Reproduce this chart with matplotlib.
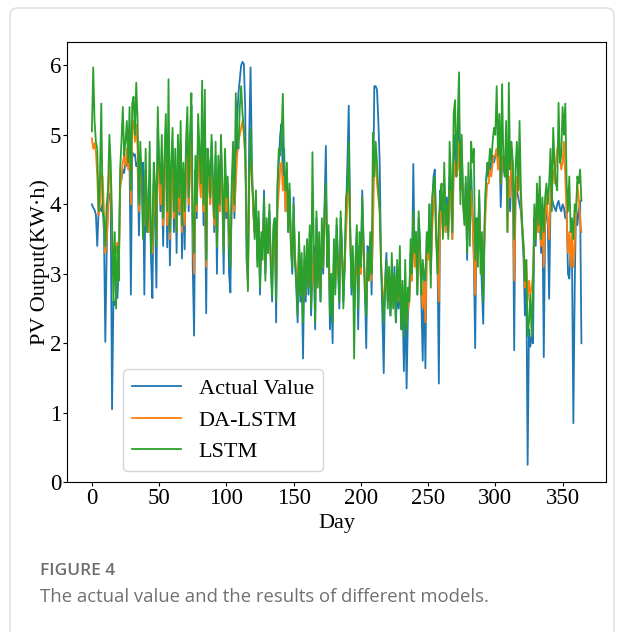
import matplotlib
matplotlib.use("Agg")
import matplotlib.pyplot as plt
from matplotlib.patches import FancyBboxPatch
from matplotlib.ticker import MultipleLocator

# daily PV output (one value per day, 365 days)
actual_value = [
    4.00, 3.95, 3.92, 3.85, 3.40, 3.90, 3.95, 3.90, 4.00, 3.60,
    2.02, 3.30, 4.10, 4.15, 4.00, 1.05, 2.60, 2.55, 2.70, 2.65,
    3.10, 4.30, 4.35, 4.50, 4.45, 4.60, 4.55, 4.70, 4.65, 2.70,
    4.75, 4.70, 4.72, 4.55, 4.60, 3.55, 4.40, 4.20, 4.60, 2.70,
    4.50, 4.00, 3.60, 4.20, 3.20, 2.65, 4.30, 3.80, 2.80, 5.10,
    4.60, 3.90, 4.40, 3.40, 4.50, 5.10, 3.38, 4.60, 3.12, 4.20,
    4.80, 3.60, 4.50, 3.30, 4.70, 3.85, 4.90, 3.22, 4.40, 3.35,
    4.60, 5.00, 3.90, 4.80, 5.42, 3.10, 2.11, 4.50, 3.80, 5.00,
    4.60, 4.20, 5.10, 3.70, 4.30, 2.43, 4.80, 4.50, 4.00, 4.90,
    4.20, 3.60, 4.70, 3.00, 4.50, 3.90, 4.80, 4.20, 3.00, 4.60,
    3.80, 4.30, 3.00, 2.73, 4.20, 4.60, 3.80, 4.50, 5.20, 5.60,
    5.80, 6.00, 6.05, 6.02, 5.40, 3.20, 2.90, 5.00, 5.97, 4.60,
    3.90, 3.60, 4.00, 3.20, 3.80, 2.70, 3.50, 3.40, 4.20, 3.00,
    3.70, 3.30, 3.90, 3.20, 2.60, 3.60, 3.80, 2.30, 4.20, 4.60,
    5.00, 5.16, 4.40, 4.80, 3.90, 4.50, 3.60, 4.20, 3.40, 3.00,
    4.10, 3.20, 2.80, 2.30, 3.50, 2.60, 3.00, 1.78, 3.20, 2.60,
    3.30, 2.70, 3.60, 2.40, 3.00, 3.40, 2.20, 3.80, 2.90, 3.30,
    2.60, 3.50, 3.00, 4.00, 4.84, 3.10, 3.60, 2.20, 2.80, 2.00,
    3.40, 2.80, 3.70, 3.20, 2.50, 3.80, 3.40, 2.60, 3.10, 3.90,
    4.60, 5.42, 3.80, 2.70, 3.30, 2.50, 3.10, 3.60, 2.20, 3.40,
    3.00, 4.20, 3.50, 2.80, 1.93, 3.40, 3.00, 3.50, 2.70, 3.90,
    5.70, 5.70, 5.65, 5.20, 4.60, 3.20, 2.40, 1.57, 2.90, 3.30,
    2.60, 3.00, 2.40, 2.80, 2.60, 3.10, 2.30, 2.70, 2.50, 2.90,
    2.20, 2.60, 1.60, 2.80, 1.35, 2.40, 2.70, 3.30, 3.00, 4.58,
    3.20, 3.60, 2.70, 3.80, 3.40, 2.60, 1.75, 3.00, 1.64, 3.50,
    3.30, 4.00, 3.00, 3.90, 4.40, 4.50, 3.60, 3.20, 1.42, 4.20,
    4.00, 3.70, 4.30, 3.60, 4.10, 3.60, 4.40, 4.20, 3.50, 4.60,
    5.00, 4.40, 4.60, 5.30, 4.20, 4.80, 4.10, 3.80, 4.30, 3.20,
    4.40, 3.60, 4.50, 3.90, 3.20, 1.93, 3.80, 3.50, 4.10, 3.40,
    2.80, 2.28, 3.60, 4.30, 4.50, 4.40, 4.60, 4.50, 4.70, 4.60,
    4.70, 4.80, 4.60, 4.90, 3.96, 4.60, 4.50, 4.45, 4.40, 4.30,
    4.20, 3.90, 4.50, 4.40, 1.90, 4.30, 4.20, 4.10, 4.00, 3.90,
    3.60, 3.20, 2.40, 3.00, 0.25, 2.20, 1.95, 2.10, 2.00, 3.80,
    3.40, 4.00, 3.60, 3.80, 3.30, 3.90, 1.80, 3.70, 4.00, 3.70,
    2.64, 4.00, 4.10, 4.00, 3.95, 3.90, 4.00, 4.05, 3.95, 3.90,
    4.00, 3.95, 3.80, 3.90, 3.00, 2.93, 3.40, 3.20, 0.85, 2.80,
    4.00, 3.70, 3.90, 4.05, 2.00,
]

da_lstm = [
    4.95, 4.80, 4.88, 4.75, 4.40, 3.85, 4.00, 4.45, 4.40, 3.90,
    3.30, 3.50, 3.80, 4.75, 4.30, 3.60, 3.00, 3.40, 3.30, 3.45,
    3.00, 4.20, 4.40, 4.60, 4.70, 4.55, 4.80, 4.50, 5.10, 4.00,
    5.10, 5.20, 4.90, 5.15, 4.80, 3.90, 4.60, 4.30, 3.80, 3.70,
    4.30, 4.00, 3.60, 4.10, 3.40, 3.30, 4.20, 4.00, 3.50, 4.70,
    4.40, 4.00, 4.30, 3.70, 4.40, 4.80, 3.70, 4.40, 3.50, 4.10,
    4.50, 3.80, 4.30, 3.60, 4.50, 3.90, 4.60, 3.60, 4.20, 3.70,
    4.40, 4.70, 4.00, 4.50, 5.00, 3.70, 3.00, 4.30, 3.90, 4.70,
    4.40, 4.10, 4.80, 3.90, 4.20, 3.10, 4.40, 4.30, 4.00, 4.60,
    4.10, 3.70, 4.40, 3.40, 4.30, 3.90, 4.50, 4.10, 3.40, 4.40,
    3.90, 4.20, 3.50, 3.20, 4.00, 4.40, 3.90, 4.30, 4.70, 4.90,
    5.00, 5.10, 5.20, 5.00, 4.70, 3.90, 2.80, 4.30, 4.90, 4.40,
    3.90, 3.60, 3.90, 3.40, 3.70, 3.00, 3.50, 3.40, 3.90, 3.20,
    3.60, 3.40, 3.70, 3.30, 2.90, 3.50, 3.60, 2.80, 3.90, 4.20,
    4.50, 4.60, 4.20, 4.40, 3.90, 4.20, 3.70, 4.00, 3.50, 3.20,
    3.80, 3.30, 3.00, 2.70, 3.30, 2.90, 3.10, 2.50, 3.10, 2.80,
    3.20, 2.90, 3.40, 2.70, 3.00, 3.30, 2.60, 3.50, 3.00, 3.20,
    2.80, 3.30, 3.10, 3.70, 4.20, 3.30, 3.40, 2.70, 2.90, 2.60,
    3.20, 2.90, 3.40, 3.10, 2.80, 3.50, 3.30, 2.90, 3.10, 3.60,
    4.00, 4.50, 3.70, 3.00, 3.20, 2.80, 3.00, 3.40, 2.70, 3.20,
    3.00, 3.70, 3.30, 2.90, 2.60, 3.20, 3.00, 3.30, 2.90, 3.60,
    4.70, 4.60, 4.30, 4.10, 3.90, 3.20, 2.80, 2.50, 2.90, 3.00,
    2.70, 2.90, 2.60, 2.80, 2.70, 2.90, 2.60, 2.70, 2.60, 2.80,
    2.50, 2.60, 2.40, 2.70, 2.30, 2.50, 2.60, 3.00, 2.90, 3.80,
    3.10, 3.40, 2.80, 3.50, 3.20, 2.80, 2.50, 2.90, 2.30, 3.30,
    3.20, 3.70, 3.00, 3.60, 4.00, 4.20, 3.50, 3.20, 2.60, 3.90,
    3.90, 3.60, 4.10, 3.60, 3.90, 3.60, 4.20, 4.10, 3.50, 4.40,
    4.60, 4.40, 4.50, 4.90, 4.20, 4.50, 4.00, 3.80, 4.10, 3.50,
    4.10, 3.60, 4.20, 3.80, 3.30, 2.70, 3.60, 3.40, 3.90, 3.40,
    3.00, 3.10, 3.50, 4.00, 4.30, 4.30, 4.50, 4.40, 4.60, 4.70,
    4.70, 4.80, 4.50, 4.90, 4.30, 4.60, 4.70, 4.40, 4.90, 3.60,
    4.40, 4.10, 4.70, 4.60, 2.90, 4.00, 4.40, 4.20, 4.50, 4.00,
    3.70, 3.40, 2.80, 3.20, 2.60, 2.90, 2.70, 2.80, 3.00, 3.70,
    3.50, 4.00, 3.60, 3.90, 3.40, 3.80, 3.10, 3.80, 4.10, 3.80,
    3.50, 4.20, 4.40, 4.50, 4.30, 4.60, 4.80, 4.90, 4.70, 4.50,
    4.60, 4.90, 4.40, 3.80, 3.30, 3.60, 3.10, 3.70, 3.10, 3.40,
    3.90, 4.30, 4.10, 3.80, 3.60,
]

lstm = [
    5.05, 5.97, 5.20, 4.90, 4.80, 3.90, 4.40, 5.45, 3.90, 3.80,
    3.40, 4.00, 4.20, 5.00, 4.60, 3.80, 2.60, 3.60, 2.50, 3.40,
    2.90, 4.50, 4.90, 5.40, 4.70, 4.90, 5.20, 4.60, 5.40, 4.20,
    5.45, 5.55, 5.00, 5.75, 5.20, 4.00, 4.90, 4.40, 3.50, 3.90,
    4.80, 3.60, 3.80, 4.90, 3.30, 3.60, 4.60, 4.30, 3.40, 5.40,
    4.60, 4.30, 5.00, 3.80, 4.70, 5.30, 3.90, 5.80, 3.60, 4.60,
    5.10, 3.90, 4.80, 3.60, 5.00, 4.10, 5.20, 3.70, 4.60, 3.90,
    4.90, 5.40, 4.10, 5.00, 5.60, 3.80, 3.30, 4.70, 4.00, 5.30,
    4.80, 4.30, 5.78, 4.00, 5.65, 3.20, 4.80, 4.60, 4.10, 5.00,
    4.40, 3.80, 4.90, 3.40, 4.70, 4.00, 5.00, 4.30, 3.30, 4.80,
    4.10, 4.40, 3.60, 3.10, 4.30, 4.90, 4.00, 5.60, 5.00, 4.80,
    5.40, 5.70, 5.30, 5.10, 4.70, 3.60, 2.75, 4.40, 5.10, 4.30,
    4.10, 3.50, 4.20, 3.10, 3.90, 2.80, 3.60, 3.20, 4.10, 2.90,
    3.80, 3.30, 4.00, 3.10, 2.70, 3.70, 3.80, 2.60, 4.30, 4.80,
    4.70, 5.00, 5.59, 4.50, 4.20, 4.60, 3.60, 4.30, 3.40, 3.10,
    4.00, 3.20, 2.90, 2.40, 3.60, 2.70, 3.30, 2.30, 3.40, 2.70,
    3.50, 2.80, 3.70, 2.50, 4.75, 3.40, 2.30, 3.90, 2.80, 3.60,
    2.60, 3.80, 3.10, 3.90, 4.30, 3.10, 3.70, 2.40, 3.00, 2.30,
    3.50, 2.70, 3.80, 3.10, 2.60, 3.90, 3.30, 2.50, 3.20, 4.10,
    4.20, 4.90, 3.60, 2.80, 3.40, 1.78, 3.20, 3.70, 2.50, 3.60,
    3.10, 4.10, 3.40, 2.70, 2.40, 3.30, 2.90, 3.60, 3.00, 5.03,
    4.40, 4.90, 4.60, 4.20, 3.90, 3.10, 2.70, 2.30, 2.80, 3.20,
    2.50, 3.10, 2.40, 3.30, 2.50, 3.00, 2.30, 3.20, 2.60, 3.40,
    2.20, 2.90, 2.10, 3.20, 2.20, 2.80, 2.60, 3.50, 3.00, 3.90,
    3.30, 3.60, 2.70, 3.90, 3.40, 2.70, 3.20, 3.00, 2.90, 3.60,
    3.30, 4.00, 2.80, 4.10, 4.30, 4.40, 3.50, 3.00, 3.80, 4.10,
    4.30, 3.50, 4.60, 3.70, 4.00, 3.50, 4.90, 4.40, 3.60, 5.30,
    5.50, 4.40, 5.20, 5.90, 4.00, 5.00, 4.00, 3.70, 4.40, 3.30,
    4.60, 3.40, 4.90, 4.60, 4.80, 3.20, 3.80, 3.10, 4.20, 3.00,
    3.60, 2.60, 3.80, 4.30, 4.60, 4.50, 4.80, 4.60, 4.90, 5.10,
    5.00, 5.70, 4.70, 5.30, 4.30, 5.73, 4.60, 4.40, 5.20, 3.60,
    5.75, 4.50, 4.90, 4.60, 3.50, 4.50, 4.90, 4.20, 5.20, 4.20,
    3.70, 3.40, 2.90, 3.20, 2.10, 2.30, 2.70, 2.10, 2.80, 4.00,
    3.50, 4.30, 3.70, 4.40, 3.50, 4.10, 3.60, 4.10, 4.30, 4.00,
    4.30, 4.80, 3.90, 5.10, 4.60, 4.30, 4.20, 5.46, 4.60, 4.70,
    5.40, 5.00, 5.45, 4.30, 3.90, 4.40, 3.60, 3.80, 3.50, 4.00,
    3.90, 4.40, 4.30, 4.50, 4.05,
]

series_names = ["Actual Value", "DA-LSTM", "LSTM"]
series_colors = ["#1f77b4", "#ff7f0e", "#2ca02c"]

days = list(range(len(actual_value)))

plt.rcParams["font.family"] = ["Liberation Serif", "DejaVu Serif"]

fig = plt.figure(figsize=(6.24, 6.32), dpi=100)

# light card border around the whole figure (open at the bottom)
card = FancyBboxPatch((10 / 624, -30 / 632), 604 / 624, (632 - 8 + 30) / 632,
                      boxstyle="round,pad=0,rounding_size=0.012",
                      transform=fig.transFigure, facecolor="none",
                      edgecolor="#dcdcdc", linewidth=1.0, zorder=0)
fig.patches.append(card)

ax = fig.add_axes([0.108, 0.237, 0.863, 0.697])

for values, name, color in zip([actual_value, da_lstm, lstm], series_names, series_colors):
    ax.plot(days, values, color=color, linewidth=1.3, label=name)

ax.set_ylim(bottom=0)
ax.xaxis.set_major_locator(MultipleLocator(50))
ax.set_xlabel("Day", fontsize=16, labelpad=3)
ax.set_ylabel("PV Output(KW·h)", fontsize=16, labelpad=0)
ax.tick_params(labelsize=16.5, length=3, pad=1.5)

ax.legend(loc="lower left", bbox_to_anchor=(0.083, 0.0), fontsize=16,
          handlelength=2.2, frameon=True)

# caption below the chart
fig.text(40 / 624, 1 - 571 / 632, "FIGURE 4", fontsize=12.5, color="#6e6e6e",
         family="Open Sans", fontweight="semibold", va="center")
fig.text(40 / 624, 1 - 597 / 632, "The actual value and the results of different models.",
         fontsize=13.3, color="#707070", family="Open Sans", va="center")

fig.savefig("out.png", dpi=100)
